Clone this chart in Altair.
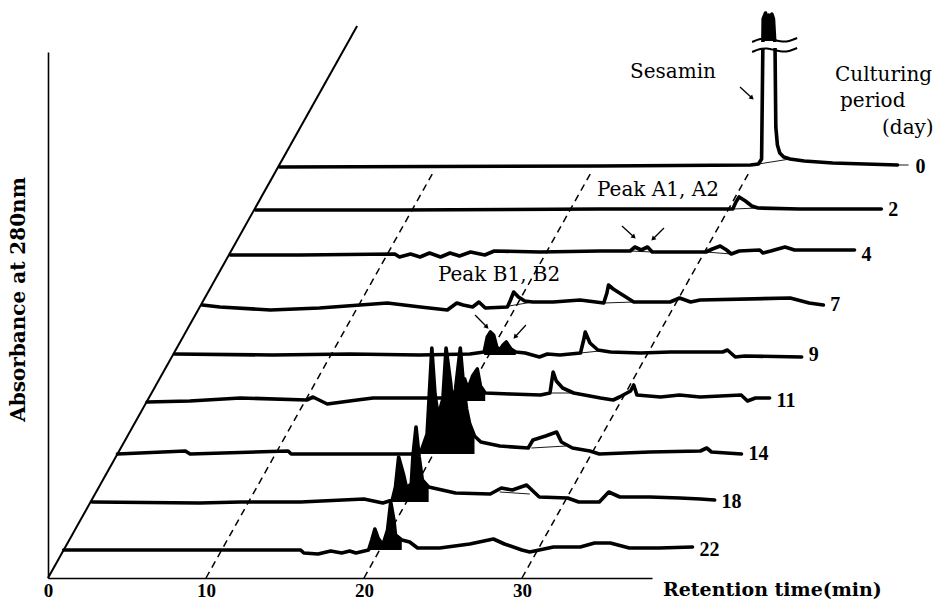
import math
import altair as alt
import pandas as pd

# geometry of the oblique (waterfall) projection
PX_PER_MIN = 15.8          # x-scale: pixels per minute
SLOPE = 0.56               # horizontal shift per unit of height of the oblique axis
K = SLOPE / PX_PER_MIN     # minutes of shift per absorbance unit of height
X_MAX = 38.23
Y_MAX = 526

# ---- data ----
days = [0, 2, 4, 7, 9, 11, 14, 18, 22]
heights = [411, 368, 323, 273, 223, 177, 124, 76, 28]   # offset of each trace

t_day0 = [0.1, 20.4, 29.9, 30.4, 30.6, 30.7, 30.85, 30.95, 31.05, 31.15, 31.25, 31.35, 31.45, 31.5, 31.6, 31.75, 32.0, 32.4, 33.3, 35.1, 39.2]
a_day0 = [0, 1, 2, 3, 8, 148, 154, 140, 152, 140, 153, 148, 120, 40, 22, 14, 10, 8, 6, 4, 2]

t_day2 = [0.1, 9.2, 21.9, 30.3, 30.5, 30.7, 31.1, 31.5, 31.9, 34.5, 39.7]
a_day2 = [0, 0, 1, 1, 8, 13, 9, 4, 2, 1, 1]

t_day4 = [0.1, 4.5, 10.5, 10.8, 11.5, 12.1, 12.7, 13.4, 14.0, 14.6, 15.3, 16.2, 16.8, 19.7, 23.5, 25.4, 25.7, 26.1, 26.5, 26.8, 30.2, 30.6, 31.1, 31.5, 31.8, 32.3, 33.6, 33.8, 34.3, 35.2, 35.8, 39.6]
a_day4 = [0, 0, 1, -2, 1, -2, 2, -2, 2, -1, 3, 0, 4, 3, 4, 4, 8, 5, 8, 3, 3, 6, 9, 5, 1, 4, 5, 2, 4, 8, 5, 5]

t_day7 = [0.1, 1.2, 4.4, 7.5, 11.8, 13.9, 15.6, 16.2, 16.6, 17.2, 17.6, 18.0, 19.4, 19.6, 19.8, 20.1, 20.5, 21.0, 22.3, 24.0, 25.5, 25.7, 25.8, 26.1, 26.7, 27.4, 29.7, 30.3, 31.0, 31.6, 37.3, 38.5, 39.4]
a_day7 = [0, -2, -5, -3, 2, -2, -5, 2, 0, -2, 3, -3, -2, 5, 13, 8, 4, 3, 3, 5, 2, 12, 20, 16, 10, 3, 3, 7, 3, 5, 7, 2, 0]

t_day9 = [0.1, 6.3, 11.2, 15.6, 18.8, 19.7, 19.9, 20.1, 20.3, 20.5, 20.7, 20.9, 21.1, 21.4, 21.7, 22.3, 23.2, 23.7, 24.5, 25.8, 26.0, 26.1, 26.4, 26.9, 27.7, 29.6, 31.5, 33.4, 34.8, 35.1, 35.6, 36.2, 39.8]
a_day9 = [1, 0, 1, 0, 1, 3, 18, 23, 20, 8, 5, 10, 13, 6, 3, 2, -2, 1, 0, 2, 15, 23, 12, 5, 3, 2, 3, 3, 3, 5, -2, -1, -2]

t_day11 = [0, 2.7, 5.9, 10.1, 10.5, 11.4, 13.3, 14.3, 17.3, 19.5, 19.8, 20.1, 20.3, 20.6, 20.9, 21.1, 21.4, 23.0, 24.9, 25.5, 25.7, 25.9, 26.3, 27.0, 28.7, 29.5, 29.9, 30.6, 30.8, 31.0, 32.5, 33.7, 35.0, 37.6, 38.0, 38.5, 39.4]
a_day11 = [-1, 0, 3, 1, 4, -3, 1, 3, 3, 3, 12, 22, 12, 25, 32, 15, 8, 7, 6, 8, 29, 20, 13, 8, 3, 1, 4, 10, 16, 6, 4, 6, 4, 6, 0, 3, 3]

t_day14 = [0, 4.3, 4.6, 10.8, 11.0, 14.7, 18.6, 19.2, 19.6, 19.9, 20.1, 20.3, 20.6, 20.8, 21.1, 21.2, 21.4, 21.7, 21.9, 22.1, 22.3, 22.6, 23.0, 24.2, 26.0, 26.3, 27.1, 27.8, 28.1, 28.8, 29.9, 30.5, 33.7, 36.9, 37.3, 37.6, 39.5]
a_day14 = [0, 3, 0, 3, 0, 0, 0, 2, 20, 106, 60, 38, 55, 106, 70, 50, 65, 106, 70, 45, 30, 18, 12, 8, 6, 14, 18, 22, 12, 6, 3, 0, 2, 3, 6, 2, 0]

t_day18 = [0.1, 6.9, 9.5, 13.3, 17.3, 18.5, 19.1, 19.3, 19.5, 19.8, 20.0, 20.3, 20.4, 20.6, 20.8, 21.0, 21.4, 23.1, 25.3, 26.0, 26.7, 27.6, 28.4, 30.2, 30.9, 32.2, 32.8, 33.5, 35.4, 37.3, 38.6, 39.5]
a_day18 = [0, -1, 0, 0, 3, -1, 2, 15, 45, 28, 14, 18, 45, 75, 45, 22, 15, 9, 8, 14, 12, 17, 5, 4, 0, 0, 10, 5, 5, 4, 3, 2]

t_day22 = [0, 15.0, 15.2, 16.1, 16.9, 17.6, 18.1, 18.5, 19.3, 19.5, 19.7, 19.9, 20.2, 20.5, 20.7, 20.9, 21.0, 21.4, 21.9, 22.4, 23.8, 25.7, 27.2, 27.9, 29.0, 29.5, 31.0, 32.7, 33.6, 34.6, 35.8, 37.7, 39.8]
a_day22 = [0, 0, -3, -4, -1, -3, -1, -3, 0, 10, 21, 12, 5, 20, 48, 30, 15, 10, 8, 2, 2, 6, 11, 6, 0, -2, 3, 3, 7, 7, 2, 2, 3]

trace_t = [t_day0, t_day2, t_day4, t_day7, t_day9, t_day11, t_day14, t_day18, t_day22]
trace_a = [a_day0, a_day2, a_day4, a_day7, a_day9, a_day11, a_day14, a_day18, a_day22]

# black-filled peak regions
fill_day = [0, 9, 11, 14, 18, 22]
fill_t0 = [30.7, 19.7, 19.5, 19.2, 19.1, 19.3]
fill_t1 = [31.35, 21.7, 21.4, 22.6, 21.4, 21.4]
fill_floor = [126, 0, 0, 0, 0, 0]

# thin integration baselines under peaks
thin_day = [0, 0, 2, 4, 4, 7, 7, 9, 11, 14, 18]
thin_t0 = [30.4, 39.2, 30.3, 25.4, 30.2, 19.5, 25.5, 25.8, 25.6, 26.2, 25.9]
thin_a0 = [3, 2, 1, 4, 3, -1, 2, 2, 8, 6, 10]
thin_t1 = [32.4, 39.9, 31.9, 26.8, 31.8, 21.0, 27.4, 27.0, 27.0, 28.4, 27.8]
thin_a1 = [8, 2, 2, 3, 1, 3, 3, 4, 8, 8, 8]

# reference retention-time lines
dash_t = [10, 20, 30]
DASH_TOP = 405
DIAG_TOP = 552

# axis-break on the Sesamin peak
break_t0, break_t1 = 30.0, 32.85
break_lo, break_hi = 119, 125
wave_dt = [0.0, 0.45, 0.95, 1.4, 1.9, 2.4, 2.85]
wave_da = [-2, 1, 2, 0, -2, -1, 2]
wave_levels = [127, 117]

# annotations (x in minutes on the time axis, y in absorbance units)
ann_text = ["Sesamin", "Culturing", "period", "(day)", "Peak A1, A2", "Peak B1, B2"]
ann_x = [39.56, 49.81, 50.13, 52.79, 34.75, 24.68]
ann_y = [506, 503, 477, 450, 388, 303]
ann_align = ["center", "left", "left", "left", "left", "left"]

arrow_x0 = [43.80, 36.33, 38.99, 27.03, 30.25]
arrow_y0 = [491, 352, 350, 263, 253]
arrow_x1 = [44.56, 37.09, 38.29, 27.78, 29.56]
arrow_y1 = [480, 341, 339, 251, 241]

XTITLE = "Retention time(min)"
XTITLE_X, XTITLE_Y = 38.92, -12
YTITLE = "Absorbance at 280nm"
tick_values = [0, 10, 20, 30]

# ---- tables ----
hmap = dict(zip(days, heights))
rows = []
for d, h, ts, avals in zip(days, heights, trace_t, trace_a):
    for t, a in zip(ts, avals):
        rows.append({"day": d, "h": h, "t": t, "a": a})
traces = pd.DataFrame(rows)

frows = []
for i, (d, t0, t1, fl) in enumerate(zip(fill_day, fill_t0, fill_t1, fill_floor)):
    for t, a in zip(trace_t[days.index(d)], trace_a[days.index(d)]):
        if t0 <= t <= t1:
            frows.append({"g": i, "h": hmap[d], "t": t, "a": a, "floor": fl})
fills = pd.DataFrame(frows)

thin = pd.DataFrame({"h": [hmap[d] for d in thin_day], "t0": thin_t0, "a0": thin_a0,
                     "t1": thin_t1, "a1": thin_a1})

ends = {}
for d, ts in zip(days, trace_t):
    ends[d] = max(ts)
for d, t1 in zip(thin_day, thin_t1):
    ends[d] = max(ends[d], t1)
labels = pd.DataFrame({"day": [str(d) for d in days], "h": heights, "t": [ends[d] for d in days]})

dashes = pd.DataFrame({"t": dash_t, "top": DASH_TOP})
diag = pd.DataFrame({"t": [0], "top": [DIAG_TOP]})

h0 = hmap[0]
brk = pd.DataFrame({"x": [break_t0 + K * h0], "x2": [break_t1 + K * h0],
                    "y": [h0 + break_lo], "y2": [h0 + break_hi]})
wrows = []
for j, lev in enumerate(wave_levels):
    for dt, da in zip(wave_dt, wave_da):
        wrows.append({"w": j, "X": break_t0 + dt + K * h0, "Y": h0 + lev + da})
waves = pd.DataFrame(wrows)

ann = pd.DataFrame({"text": ann_text, "X": ann_x, "Y": ann_y, "align": ann_align})

arr = pd.DataFrame({"X": arrow_x0, "Y": arrow_y0, "X2": arrow_x1, "Y2": arrow_y1})
arr["ang"] = [
    math.degrees(math.atan2((x1 - x0) * PX_PER_MIN, (y1 - y0))) % 360
    for x0, y0, x1, y1 in zip(arrow_x0, arrow_y0, arrow_x1, arrow_y1)
]

xtitle = pd.DataFrame({"X": [XTITLE_X], "Y": [XTITLE_Y], "text": [XTITLE]})

# ---- encodings ----
XSCALE = alt.Scale(domain=[0, X_MAX], nice=False, zero=False)
YSCALE = alt.Scale(domain=[0, Y_MAX], nice=False, zero=False)
XAXIS = alt.Axis(values=tick_values, title=None, ticks=False, grid=False,
                 domainColor="black", domainWidth=1.6, labelFont="Liberation Serif",
                 labelFontWeight="bold", labelFontSize=19, labelColor="black",
                 labelPadding=3, labelFlush=False)
YAXIS = alt.Axis(title=YTITLE, ticks=False, labels=False, grid=False,
                 domainColor="black", domainWidth=1.6, titleFont="DejaVu Serif",
                 titleFontWeight="bold", titleFontSize=20, titleColor="black",
                 titleAngle=270, titleAlign="center", titleBaseline="middle",
                 titleX=-30, titleY=247)


def X(f="X"):
    return alt.X(f"{f}:Q", scale=XSCALE, axis=XAXIS)


def Y(f="Y"):
    return alt.Y(f"{f}:Q", scale=YSCALE, axis=YAXIS)


kexpr = f"{K}"

dash_layer = alt.Chart(dashes).transform_calculate(
    X="datum.t", Y="0", X2=f"datum.t + {kexpr}*datum.top", Y2="datum.top"
).mark_rule(color="black", strokeWidth=1.5, strokeDash=[7, 5]).encode(
    x=X(), y=Y(), x2="X2:Q", y2="Y2:Q")

diag_layer = alt.Chart(diag).transform_calculate(
    X="datum.t", Y="0", X2=f"datum.t + {kexpr}*datum.top", Y2="datum.top"
).mark_rule(color="black", strokeWidth=2).encode(
    x=X(), y=Y(), x2="X2:Q", y2="Y2:Q")

thin_layer = alt.Chart(thin).transform_calculate(
    X=f"datum.t0 + {kexpr}*datum.h", Y="datum.h + datum.a0",
    X2=f"datum.t1 + {kexpr}*datum.h", Y2="datum.h + datum.a1"
).mark_rule(color="black", strokeWidth=0.9).encode(
    x=X(), y=Y(), x2="X2:Q", y2="Y2:Q")

fill_layer = alt.Chart(fills).transform_calculate(
    X=f"datum.t + {kexpr}*datum.h", Y="datum.h + datum.a", Y2="datum.h + datum.floor"
).mark_area(color="black", opacity=1).encode(
    x=X(), y=Y(), y2="Y2:Q", detail="g:N")

line_layer = alt.Chart(traces).transform_calculate(
    X=f"datum.t + {kexpr}*datum.h", Y="datum.h + datum.a"
).mark_line(color="black", strokeWidth=3.6, strokeJoin="round", strokeCap="round").encode(
    x=X(), y=Y(), detail="day:N", order="t:Q")

brk_layer = alt.Chart(brk).mark_rect(color="white").encode(
    x=X("x"), x2="x2:Q", y=Y("y"), y2="y2:Q")

wave_layer = alt.Chart(waves).mark_line(color="black", strokeWidth=2, interpolate="basis").encode(
    x=X(), y=Y(), detail="w:N")

arrow_layer = alt.Chart(arr).mark_rule(color="black", strokeWidth=1.3).encode(
    x=X(), y=Y(), x2="X2:Q", y2="Y2:Q")

head_layer = alt.Chart(arr).mark_point(shape="triangle-up", filled=True, color="black",
                                       size=28, opacity=1).encode(
    x=X("X2"), y=Y("Y2"), angle=alt.Angle("ang:Q", scale=None))

label_layer = alt.Chart(labels).transform_calculate(
    X=f"datum.t + {kexpr}*datum.h", Y="datum.h"
).mark_text(align="left", baseline="middle", dx=7, font="Liberation Serif",
            fontWeight="bold", fontSize=20, color="black").encode(
    x=X(), y=Y(), text="day:N")

ann_left = alt.Chart(ann).transform_filter("datum.align == 'left'").mark_text(
    align="left", baseline="middle", font="DejaVu Serif", fontSize=20, color="black"
).encode(x=X(), y=Y(), text="text:N")

ann_center = alt.Chart(ann).transform_filter("datum.align == 'center'").mark_text(
    align="center", baseline="middle", font="DejaVu Serif", fontSize=20, color="black"
).encode(x=X(), y=Y(), text="text:N")

xtitle_layer = alt.Chart(xtitle).mark_text(
    align="left", baseline="middle", font="DejaVu Serif", fontWeight="bold",
    fontSize=19, color="black").encode(x=X(), y=Y(), text="text:N")

chart = alt.layer(
    dash_layer, diag_layer, thin_layer, fill_layer, line_layer, brk_layer, wave_layer,
    arrow_layer, head_layer, label_layer, ann_left, ann_center, xtitle_layer
).properties(
    width=604, height=Y_MAX,
    autosize=alt.AutoSizeParams(type="none"),
    padding={"left": 48, "top": 52, "right": 293, "bottom": 26},
    background="white",
).configure_view(stroke=None)

chart.save("out.html", embed_options={"renderer": "svg", "actions": False})
